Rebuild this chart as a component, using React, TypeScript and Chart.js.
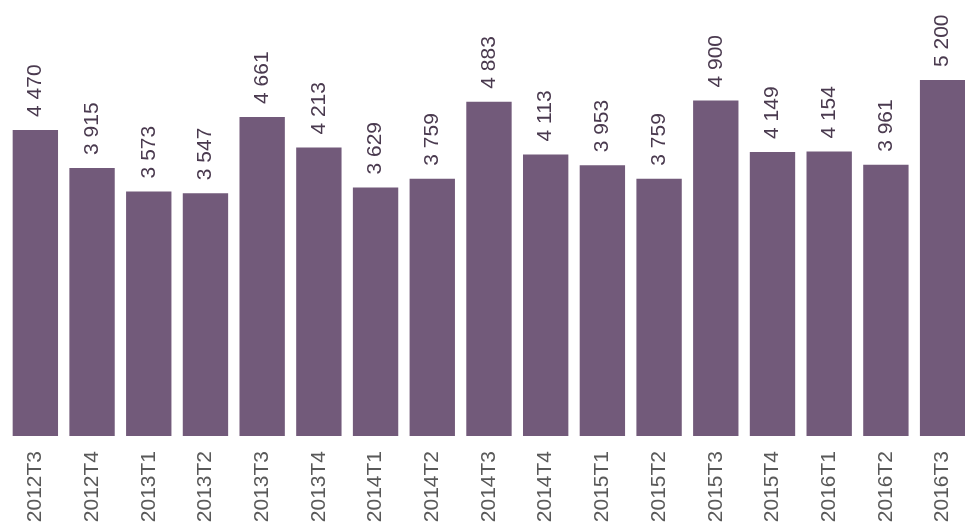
import React, { useEffect, useRef } from "react";
import { Chart, registerables } from "chart.js";

Chart.register(...registerables);

const categories = [
  "2012T3", "2012T4", "2013T1", "2013T2", "2013T3", "2013T4", "2014T1", "2014T2", "2014T3",
  "2014T4", "2015T1", "2015T2", "2015T3", "2015T4", "2016T1", "2016T2", "2016T3",
];
const values = [4470, 3915, 3573, 3547, 4661, 4213, 3629, 3759, 4883, 4113, 3953, 3759, 4900, 4149, 4154, 3961, 5200];

const BAR_COLOR = "#725a7a";
const FONT = "'Liberation Sans', Arial, sans-serif";

const fmt = (v: number) => String(v).replace(/\B(?=(\d{3})+(?!\d))/g, " ");

const valueLabels = {
  id: "valueLabels",
  afterDatasetsDraw(chart: any) {
    const ctx = chart.ctx;
    const meta = chart.getDatasetMeta(0);
    ctx.save();
    ctx.font = `21px ${FONT}`;
    ctx.fillStyle = "#4a3a4f";
    ctx.textAlign = "left";
    ctx.textBaseline = "middle";
    meta.data.forEach((bar: any, i: number) => {
      ctx.save();
      ctx.translate(bar.x, bar.y - 13);
      ctx.rotate(-Math.PI / 2);
      ctx.fillText(fmt(values[i]), 0, 0);
      ctx.restore();
    });
    ctx.restore();
  },
};

export default function App() {
  const ref = useRef<HTMLCanvasElement>(null);
  useEffect(() => {
    document.body.style.margin = "0";
    document.body.style.overflow = "hidden";
    const chart = new Chart(ref.current!, {
      type: "bar",
      data: {
        labels: categories,
        datasets: [
          {
            data: values,
            backgroundColor: BAR_COLOR,
            barPercentage: 0.8,
            categoryPercentage: 1,
          },
        ],
      },
      options: {
        responsive: false,
        animation: false,
        layout: { padding: { top: 80, left: 7, right: 7, bottom: 0 } },
        plugins: { legend: { display: false }, tooltip: { enabled: false } },
        scales: {
          x: {
            grid: { display: false, drawTicks: false },
            border: { display: false },
            ticks: {
              minRotation: 90,
              maxRotation: 90,
              autoSkip: false,
              padding: 15,
              color: "#595959",
              font: { size: 21, family: FONT },
            },
            afterFit: (scale: any) => {
              scale.height = 90;
            },
          },
          y: {
            display: false,
            min: 0,
            max: 5200,
          },
        },
      },
      plugins: [valueLabels],
    });
    return () => chart.destroy();
  }, []);
  return (
    <div style={{ position: "fixed", left: 0, top: 0, width: 965, height: 526, overflow: "hidden" }}>
      <canvas ref={ref} width={983} height={526} style={{ display: "block" }} />
    </div>
  );
}
